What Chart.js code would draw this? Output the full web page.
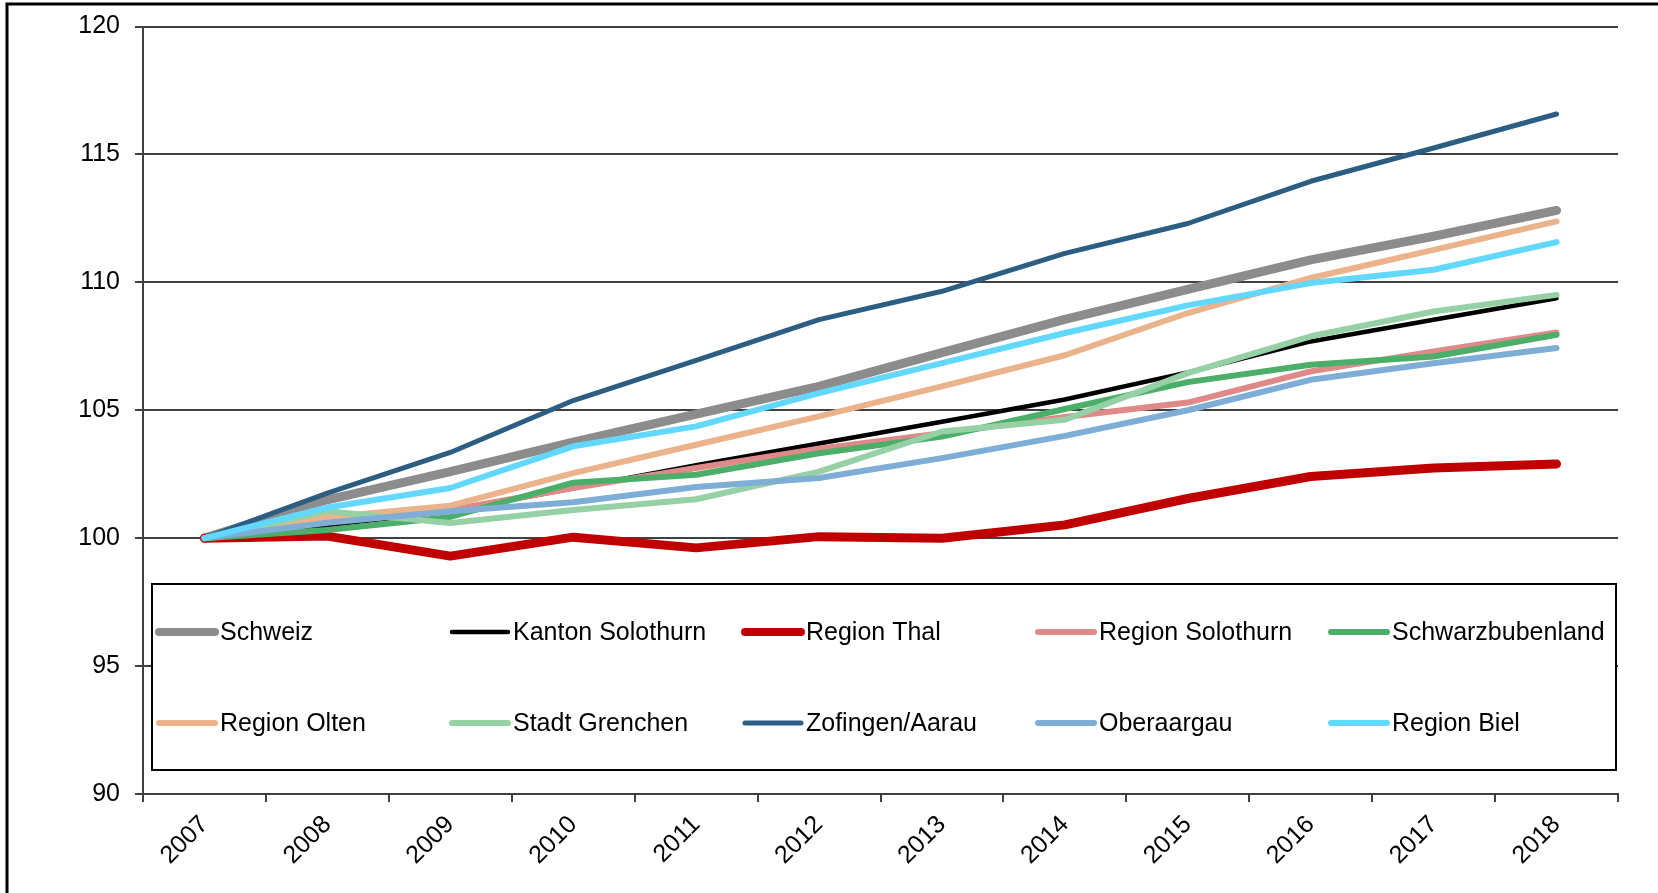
<!DOCTYPE html>
<html>
<head>
<meta charset="utf-8">
<script src="https://cdn.jsdelivr.net/npm/chart.js@4/dist/chart.umd.min.js"></script>
<style>
  html, body { margin: 0; padding: 0; background: #fff; }
  #wrap { width: 1658px; height: 893px; position: relative; }
</style>
</head>
<body>
<div id="wrap"><canvas id="chart"></canvas></div>
<script>
// index, 2007 = 100
var years = ["2007", "2008", "2009", "2010", "2011", "2012", "2013", "2014", "2015", "2016", "2017", "2018"];
var yTicks = [90, 95, 100, 105, 110, 115, 120];

var schweiz          = [100, 101.5, 102.6, 103.75, 104.85, 105.93, 107.25, 108.55, 109.72, 110.88, 111.8, 112.81];
var kantonSolothurn  = [100, 100.5, 101.05, 101.95, 102.85, 103.7, 104.55, 105.42, 106.48, 107.69, 108.54, 109.38];
var regionThal       = [100, 100.08, 99.3, 100.04, 99.62, 100.06, 100.0, 100.52, 101.55, 102.41, 102.74, 102.9];
var regionSolothurn  = [100, 100.65, 101.1, 101.96, 102.74, 103.5, 104.1, 104.74, 105.3, 106.52, 107.3, 108.04];
var schwarzbubenland = [100, 100.32, 100.83, 102.17, 102.48, 103.32, 103.97, 105.05, 106.1, 106.78, 107.1, 107.95];
var regionOlten      = [100, 100.82, 101.27, 102.54, 103.65, 104.76, 105.93, 107.15, 108.8, 110.17, 111.27, 112.38];
var stadtGrenchen    = [100, 101.05, 100.59, 101.1, 101.52, 102.6, 104.17, 104.63, 106.45, 107.89, 108.86, 109.51];
var zofingenAarau    = [100, 101.76, 103.35, 105.38, 106.95, 108.54, 109.65, 111.13, 112.3, 113.95, 115.25, 116.58];
var oberaargau       = [100, 100.6, 101.05, 101.4, 102.0, 102.35, 103.13, 104.0, 105.0, 106.19, 106.84, 107.43];
var regionBiel       = [100, 101.2, 101.96, 103.59, 104.37, 105.67, 106.84, 108.02, 109.1, 109.97, 110.49, 111.57];

var series = [
    ["Schweiz", schweiz, "#8c8c8c", 9],
    ["Kanton Solothurn", kantonSolothurn, "#000000", 4.5],
    ["Region Thal", regionThal, "#c00000", 9],
    ["Region Solothurn", regionSolothurn, "#df8989", 6],
    ["Schwarzbubenland", schwarzbubenland, "#4caf69", 6],
    ["Region Olten", regionOlten, "#ebb38b", 6],
    ["Stadt Grenchen", stadtGrenchen, "#96d1a5", 6],
    ["Zofingen/Aarau", zofingenAarau, "#2c5d82", 5],
    ["Oberaargau", oberaargau, "#7eadd6", 6],
    ["Region Biel", regionBiel, "#62d8ff", 6]
];

var FONT = "'Liberation Sans', Arial, sans-serif";

var datasets = series.map(function (s, i) {
    return {
        label: s[0],
        data: s[1],
        borderColor: s[2],
        backgroundColor: s[2],
        borderWidth: s[3],
        pointRadius: 0,
        tension: 0,
        fill: false,
        borderCapStyle: 'round',
        borderJoinStyle: 'round',
        order: series.length - i   // later series on top, like the original
    };
});

// boxed legend in two rows of five, drawn inside the plot, plus outer frame
var boxLegend = {
    id: 'boxLegend',
    afterDraw: function (chart) {
        var c = chart.ctx;
        c.save();
        c.fillStyle = '#fff';
        c.fillRect(152, 584, 1464, 186);
        c.strokeStyle = '#000';
        c.lineWidth = 2;
        c.strokeRect(152, 584, 1464, 186);

        c.font = '25px ' + FONT;
        c.textBaseline = 'middle';
        c.textAlign = 'left';
        c.lineCap = 'round';
        chart.data.datasets.forEach(function (ds, i) {
            var col = i % 5, row = Math.floor(i / 5);
            var x = 159 + col * 293;
            var y = row === 0 ? 632 : 723;
            c.strokeStyle = ds.borderColor;
            c.lineWidth = Math.min(ds.borderWidth, 8);
            c.beginPath();
            c.moveTo(x, y);
            c.lineTo(x + 56, y);
            c.stroke();
            c.fillStyle = '#000';
            c.fillText(ds.label, x + 61, y + 1);
        });

        c.strokeStyle = '#000';
        c.lineWidth = 3;
        c.strokeRect(7, 4, 1720, 1000);
        c.restore();
    }
};

new Chart(document.getElementById('chart'), {
    type: 'line',
    data: { labels: years, datasets: datasets },
    plugins: [boxLegend],
    options: {
        responsive: true,
        maintainAspectRatio: false,
        animation: false,
        layout: { padding: { top: 26.5, right: 40, left: 0, bottom: 0 } },
        plugins: {
            legend: { display: false },
            tooltip: { enabled: false }
        },
        scales: {
            x: {
                offset: true,
                grid: {
                    offset: true,
                    drawOnChartArea: false,
                    drawTicks: true,
                    tickLength: 8,
                    color: '#404040',
                    lineWidth: 2
                },
                border: { color: '#404040', width: 2 },
                ticks: {
                    color: '#000',
                    font: { family: FONT, size: 25 },
                    minRotation: 45,
                    maxRotation: 45,
                    padding: 8
                },
                afterFit: function (s) { s.height = 99; }
            },
            y: {
                min: 90,
                max: 120,
                afterBuildTicks: function (s) {
                    s.ticks = yTicks.map(function (v) { return { value: v }; });
                },
                grid: {
                    color: '#404040',
                    lineWidth: 2,
                    tickLength: 8
                },
                border: { color: '#404040', width: 2 },
                ticks: {
                    color: '#000',
                    font: { family: FONT, size: 25 },
                    padding: 15
                },
                afterFit: function (s) {
                    s.width = 143;
                    s.paddingTop = 0;
                    s.paddingBottom = 0;
                }
            }
        }
    }
});
</script>
</body>
</html>
